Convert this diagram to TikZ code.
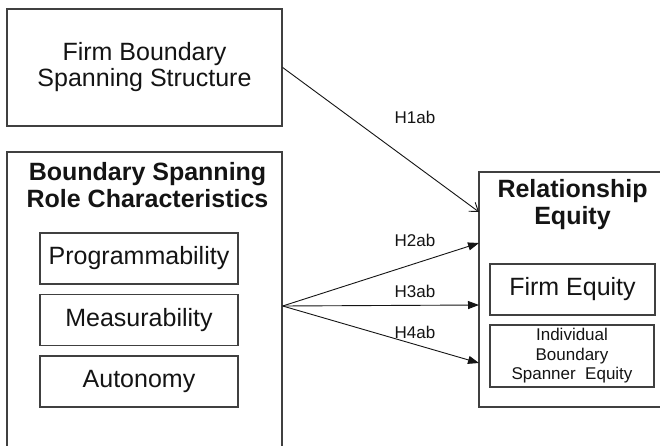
\documentclass[tikz,border=0pt]{standalone}
\usepackage{fontspec}
\setmainfont{Liberation Sans}
\usetikzlibrary{arrows.meta}
\definecolor{boxline}{HTML}{404040}
\definecolor{ink}{HTML}{141414}
\tikzset{
  frame/.style={draw=boxline, line width=1.3pt, inner sep=0pt, text=ink},
  bigtext/.style={font=\fontsize{25}{26}\selectfont, align=center},
  headtext/.style={font=\fontsize{25}{27}\selectfont\bfseries, align=center, inner sep=0pt, text=ink},
  smalltext/.style={font=\fontsize{17}{19.5}\selectfont, align=center},
  hlabel/.style={font=\fontsize{17}{19}\selectfont, inner sep=0pt, text=ink},
  link/.style={draw=ink, line width=0.9pt},
  openhead/.style={-{Straight Barb[length=8pt,width=11pt,line width=0.9pt]}},
  solidhead/.style={-{Triangle[length=11pt,width=8pt]}}
}
\begin{document}
\begin{tikzpicture}[x=1pt,y=-1pt]
\useasboundingbox (0,0) rectangle (660,446);
\clip (0,0) rectangle (660,446);
\fill[white] (0,0) rectangle (660,446);

% structure construct
\node[frame, bigtext, minimum width=275pt, minimum height=117pt] (structure) at (144.5,67.5)
  {Firm Boundary\\Spanning Structure};

% role characteristics group (runs off the lower edge)
\node[frame, minimum width=275pt, minimum height=308pt] (roles) at (144.5,306) {};
\node[headtext] (rolestitle) at (147.5,185) {Boundary Spanning\\Role Characteristics};
\node[frame, bigtext, minimum width=198pt, minimum height=51pt] (prog) at (139,258.5) {Programmability};
\node[frame, bigtext, minimum width=198pt, minimum height=51pt] (meas) at (139,320) {Measurability};
\node[frame, bigtext, minimum width=198pt, minimum height=51pt] (auto) at (139,381.5) {Autonomy};

% relationship equity group (runs off the right edge)
\node[frame, minimum width=210pt, minimum height=235pt] (equity) at (584,289.5) {};
\node[headtext] (equitytitle) at (572.5,205) {Relationship\\Equity};
\node[frame, bigtext, minimum width=165pt, minimum height=51pt] (firmeq) at (572.5,289.5) {Firm Equity};
\node[frame, smalltext, minimum width=164pt, minimum height=62pt] (indeq) at (572,356)
  {Individual\\Boundary\\Spanner\ \ Equity};

% arrow targets on the left side of the equity group
\coordinate (t1) at (479,212);
\coordinate (t2) at (479,243);
\coordinate (t3) at (479,305);
\coordinate (t4) at (479,363);

% hypothesised paths
\draw[link, openhead] (structure.east) -- (t1);
\draw[link, solidhead] (roles.east) -- (t2);
\draw[link, solidhead] (roles.east) -- (t3);
\draw[link, solidhead] (roles.east) -- (t4);

\node[hlabel] (h1) at (415,117) {H1ab};
\node[hlabel] (h2) at (415,240) {H2ab};
\node[hlabel] (h3) at (415,291) {H3ab};
\node[hlabel] (h4) at (415,332) {H4ab};
\end{tikzpicture}
\end{document}
